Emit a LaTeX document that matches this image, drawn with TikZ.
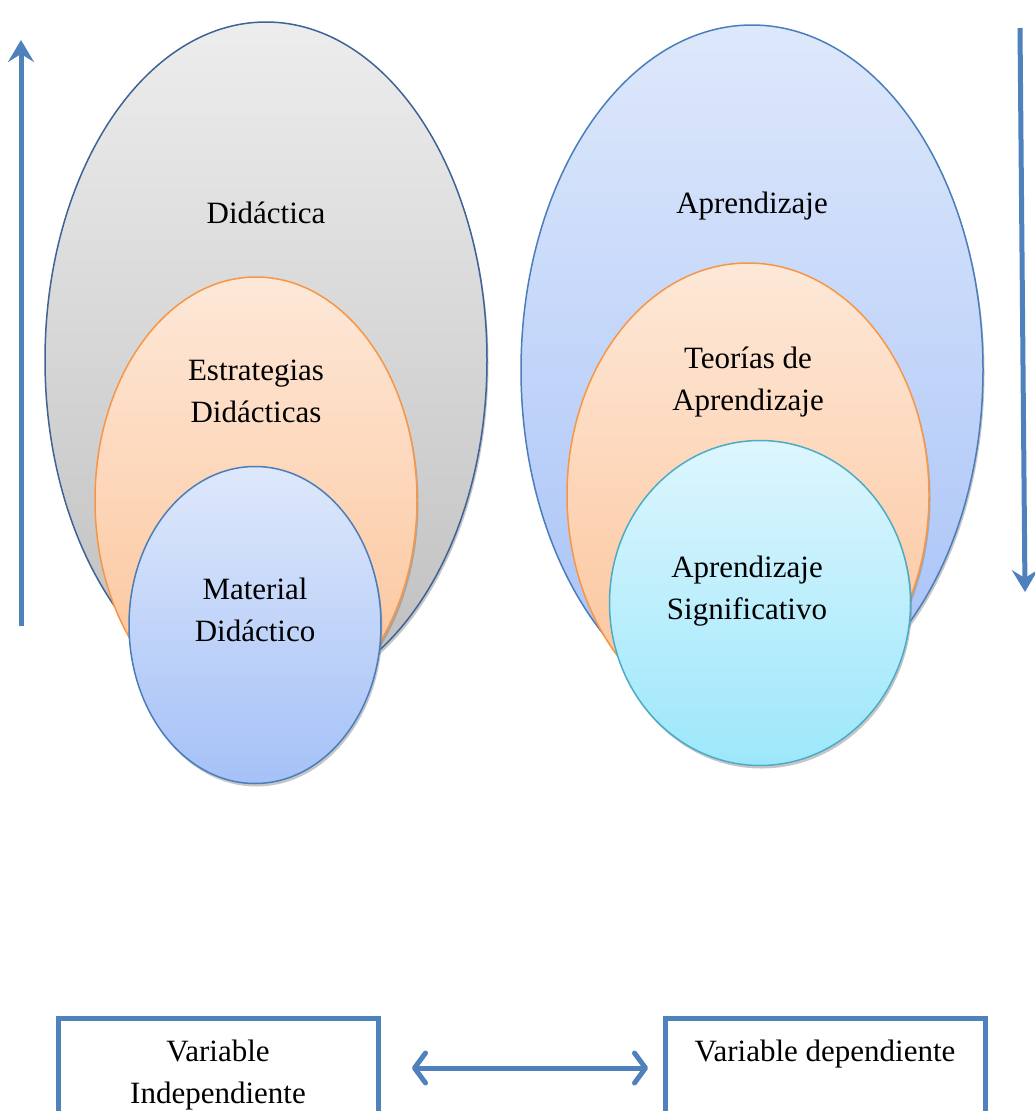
\documentclass[tikz,border=0pt]{standalone}
\usepackage{fontspec}
\setmainfont{Liberation Serif}
\usetikzlibrary{shapes.geometric,arrows.meta,shadows}
\definecolor{arrowblue}{HTML}{4F81BD}
\definecolor{grayedge}{HTML}{3E6396}
\definecolor{grayTop}{HTML}{EDEDED}
\definecolor{grayBot}{HTML}{BEBEBE}
\definecolor{orEdge}{HTML}{F79646}
\definecolor{orTop}{HTML}{FDE8D8}
\definecolor{orBot}{HTML}{FCC296}
\definecolor{blEdge}{HTML}{4A7EBB}
\definecolor{blTop}{HTML}{DEE8FB}
\definecolor{blBot}{HTML}{A5C1F7}
\definecolor{cyEdge}{HTML}{4BACC6}
\definecolor{cyTop}{HTML}{DDF6FD}
\definecolor{cyBot}{HTML}{9DE7FB}
\tikzset{
  blob/.style={ellipse, inner sep=0pt, line width=1.5pt,
    drop shadow={shadow xshift=1.5pt, shadow yshift=-3pt, opacity=0.45, fill=black!50}},
  graybl/.style={blob, draw=grayedge, top color=grayTop, bottom color=grayBot},
  orbl/.style={blob, draw=orEdge, top color=orTop, bottom color=orBot},
  bluebl/.style={blob, draw=blEdge, top color=blTop, bottom color=blBot},
  cyanbl/.style={blob, draw=cyEdge, top color=cyTop, bottom color=cyBot},
  lbl/.style={font=\fontsize{31}{42}\selectfont, align=center, inner sep=0pt, text=black},
  varbox/.style={draw=arrowblue, line width=5pt, minimum width=320pt, minimum height=124pt, inner sep=0pt},
  vline/.style={draw=arrowblue, line width=5pt, -{Stealth[length=22pt, width=26pt, inset=8pt]}},
  hline/.style={draw=arrowblue, line width=5pt, line cap=round,
    {Straight Barb[length=11pt, width=30pt, round]}-{Straight Barb[length=11pt, width=30pt, round]}}
}
\begin{document}
\begin{tikzpicture}[x=1pt, y=-1pt]
\useasboundingbox (0,0) rectangle (1035,1111);
\clip (0,0) rectangle (1035,1111);
% left group
\node[graybl, minimum width=442pt, minimum height=676pt] (didactica) at (266,360) {};
\node[orbl, minimum width=322pt, minimum height=446pt] (estrategias) at (256,500) {};
\node[bluebl, minimum width=252pt, minimum height=317pt] (material) at (255,625) {};
% right group
\node[bluebl, minimum width=462pt, minimum height=690pt] (aprendizaje) at (752,370) {};
\node[orbl, minimum width=362pt, minimum height=464pt] (teorias) at (748,495) {};
\node[cyanbl, minimum width=301pt, minimum height=325pt] (signif) at (760,603) {};
% labels
\node[lbl] (tDid) at (266,213) {Didáctica};
\node[lbl] (tEst) at (256,391) {Estrategias\\Didácticas};
\node[lbl] (tMat) at (255,610) {Material\\Didáctico};
\node[lbl] (tApr) at (752,206) {Aprendizaje};
\node[lbl] (tTeo) at (748,382) {Teorías de\\Aprendizaje};
\node[lbl] (tSig) at (747,591) {Aprendizaje\\Significativo};
% vertical arrows
\coordinate (lb) at (21,626);
\coordinate (lt) at (21,40);
\draw[vline] (lb) -- (lt);
\coordinate (rt) at (1020,28);
\coordinate (rb) at (1025,592);
\draw[vline] (rt) -- (rb);
% bottom boxes
\node[varbox] (vi) at (218,1080) {};
\node[varbox] (vd) at (825,1080) {};
\node[lbl] (tVi) at (218,1075) {Variable\\Independiente};
\node[lbl] (tVd) at (825,1054) {Variable dependiente};
\coordinate (al) at (412,1068);
\coordinate (ar) at (648,1068);
\draw[hline] (al) -- (ar);
\end{tikzpicture}
\end{document}
